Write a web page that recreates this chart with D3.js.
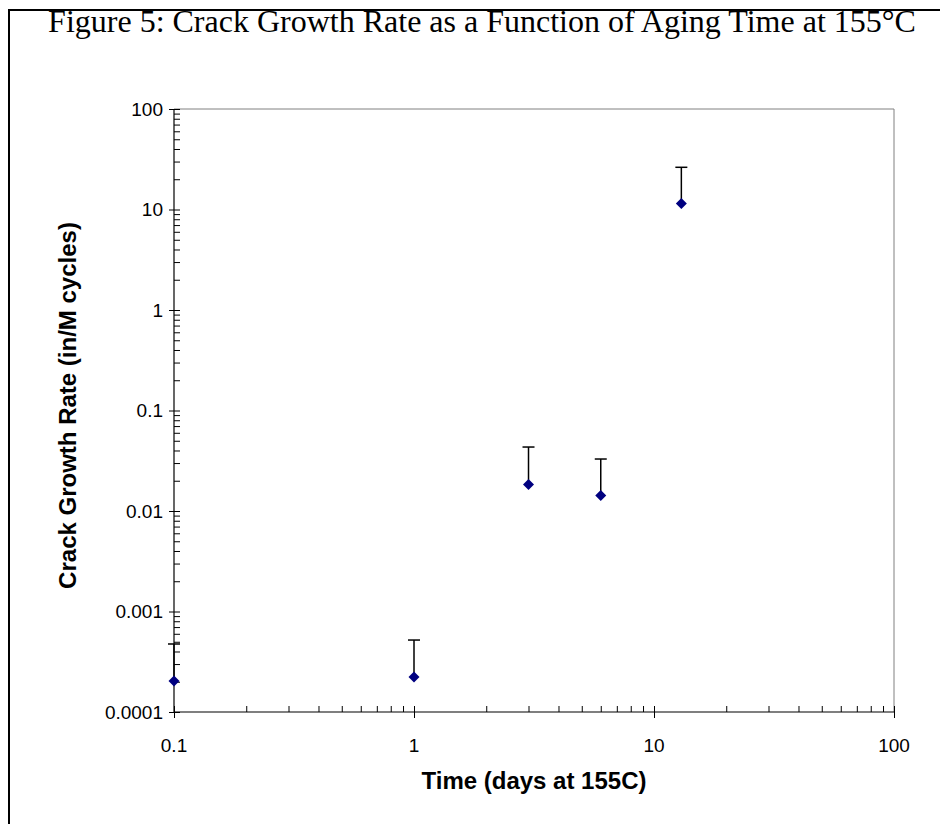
<!DOCTYPE html>
<html>
<head>
<meta charset="utf-8">
<script src="https://cdn.jsdelivr.net/npm/d3@7"></script>
<style>
  body { margin: 0; background: #fff; }
  svg { display: block; }
</style>
</head>
<body>
<div id="chart"></div>
<script>
// Data
const days = [0.1, 1, 3, 6, 13];
const rates = [0.000203, 0.000223, 0.0183, 0.0143, 11.5];
const upperErr = [0.000475, 0.00052, 0.0433, 0.0329, 26.3];
const yTickLabels = ["0.0001", "0.001", "0.01", "0.1", "1", "10", "100"];
const xTickLabels = ["0.1", "1", "10", "100"];

const W = 940, H = 824;
const margin = { top: 109, right: 46, bottom: 112, left: 174 },
      width = W - margin.left - margin.right,
      height = H - margin.top - margin.bottom;

const svg = d3.select("#chart")
              .append("svg")
              .attr("width", W)
              .attr("height", H);

// outer frame (runs off the right and bottom edges)
svg.append("rect")
   .attr("x", 9).attr("y", 10)
   .attr("width", 1000).attr("height", 1000)
   .attr("fill", "none")
   .attr("stroke", "#000")
   .attr("stroke-width", 2);

svg.append("text")
   .attr("x", 482)
   .attr("y", 32)
   .attr("text-anchor", "middle")
   .style("font-family", "'Liberation Serif', 'Times New Roman', serif")
   .style("font-size", "32px")
   .text("Figure 5: Crack Growth Rate as a Function of Aging Time at 155°C");

const g = svg.append("g")
             .attr("transform", `translate(${margin.left},${margin.top})`);

const x = d3.scaleLog().domain([0.1, 100]).range([0, width]);
const y = d3.scaleLog().domain([0.0001, 100]).range([height, 0]);

// plot frame, top and right
g.append("path")
 .attr("d", `M0,0H${width}V${height}`)
 .attr("fill", "none")
 .attr("stroke", "#808080")
 .attr("stroke-width", 1);

const xMajor = xTickLabels.map(Number);
const yMajor = yTickLabels.map(Number);
const minorOf = majors => majors.slice(0, -1)
    .flatMap(m => d3.range(1, 10).map(k => +(m * k).toPrecision(3)))
    .concat([majors[majors.length - 1]]);

const tickStyle = sel => {
    sel.select(".domain").remove();
    sel.selectAll("line").attr("stroke", "#000");
    sel.selectAll("text").remove();
};

// inward ticks (major + minor)
g.append("g").call(d3.axisLeft(y).tickValues(minorOf(yMajor)).tickSize(-6)).call(tickStyle);
g.append("g").attr("transform", `translate(0,${height})`)
 .call(d3.axisBottom(x).tickValues(minorOf(xMajor)).tickSize(-6)).call(tickStyle);

// outward major ticks
g.append("g").call(d3.axisLeft(y).tickValues(yMajor).tickSize(5)).call(tickStyle);
g.append("g").attr("transform", `translate(0,${height})`)
 .call(d3.axisBottom(x).tickValues(xMajor).tickSize(6)).call(tickStyle);

// axis lines
g.append("line").attr("x1", 0).attr("x2", 0).attr("y1", 0).attr("y2", height)
 .attr("stroke", "#000").attr("stroke-width", 1.2);
g.append("line").attr("x1", 0).attr("x2", width).attr("y1", height).attr("y2", height)
 .attr("stroke", "#000").attr("stroke-width", 1.2);

const labelFont = "Arial, 'Liberation Sans', sans-serif";

g.selectAll(".ylab")
 .data(yTickLabels)
 .enter().append("text")
 .attr("x", -11)
 .attr("y", d => y(+d))
 .attr("dy", "0.35em")
 .attr("text-anchor", "end")
 .style("font-family", labelFont)
 .style("font-size", "19px")
 .text(d => d);

g.selectAll(".xlab")
 .data(xTickLabels)
 .enter().append("text")
 .attr("x", d => x(+d))
 .attr("y", height + 40)
 .attr("text-anchor", "middle")
 .style("font-family", labelFont)
 .style("font-size", "19px")
 .text(d => d);

g.append("text")
 .attr("x", width / 2)
 .attr("y", height + 77)
 .attr("text-anchor", "middle")
 .style("font-family", labelFont)
 .style("font-size", "24px")
 .style("font-weight", "bold")
 .text("Time (days at 155C)");

g.append("text")
 .attr("transform", `translate(${68 - margin.left},${height / 2 - 5}) rotate(-90)`)
 .attr("text-anchor", "middle")
 .attr("dy", "0.35em")
 .style("font-family", labelFont)
 .style("font-size", "24px")
 .style("font-weight", "bold")
 .text("Crack Growth Rate (in/M cycles)");

// error bars (upper only)
const pts = days.map((d, i) => ({ t: d, r: rates[i], hi: upperErr[i] }));

const bars = g.selectAll(".err")
              .data(pts)
              .enter().append("g");
bars.append("line")
    .attr("x1", d => x(d.t)).attr("x2", d => x(d.t))
    .attr("y1", d => y(d.r)).attr("y2", d => y(d.hi))
    .attr("stroke", "#000").attr("stroke-width", 1.5);
bars.append("line")
    .attr("x1", d => x(d.t) - 6).attr("x2", d => x(d.t) + 6)
    .attr("y1", d => y(d.hi)).attr("y2", d => y(d.hi))
    .attr("stroke", "#000").attr("stroke-width", 1.5);

// diamond markers
g.selectAll(".pt")
 .data(pts)
 .enter().append("path")
 .attr("transform", d => `translate(${x(d.t)},${y(d.r)})`)
 .attr("d", "M0,-5.5L5.5,0L0,5.5L-5.5,0Z")
 .attr("fill", "#000080");
</script>
</body>
</html>
